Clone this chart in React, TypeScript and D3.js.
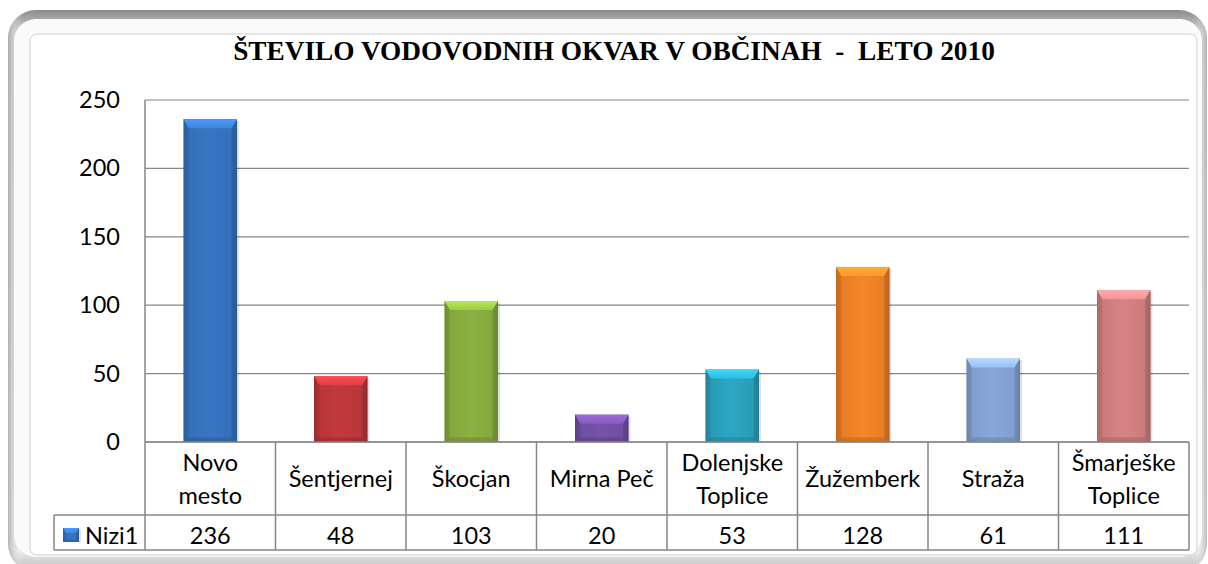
import React from "react";
import * as d3 from "d3";

const categories: string[][] = [
  ["Novo", "mesto"],
  ["Šentjernej"],
  ["Škocjan"],
  ["Mirna Peč"],
  ["Dolenjske", "Toplice"],
  ["Žužemberk"],
  ["Straža"],
  ["Šmarješke", "Toplice"],
];
const values: number[] = [236, 48, 103, 20, 53, 128, 61, 111];
const barColors: string[] = ["#3570B9", "#B8363A", "#84A83E", "#704EA0", "#2A9DB8", "#E97E26", "#819FCE", "#CC7C7C"];
const yTicks: number[] = [0, 50, 100, 150, 200, 250];
const seriesName = "Nizi1";
const title = "ŠTEVILO VODOVODNIH OKVAR V OBČINAH  -  LETO 2010";

const W = 1208;
const H = 564;
const X0 = 145;
const X1 = 1189;
const Y0 = 442;
const Y1 = 100;
const ROW1 = 515;
const ROW2 = 550;
const LEG_X = 54;
const labelFont = "Lato, 'Open Sans', sans-serif";
const FS = 23.5;

function Bar({ x, y, w, h, color, id, bevel = 9 }: { x: number; y: number; w: number; h: number; color: string; id: string; bevel?: number }) {
  const c = d3.color(color)!;
  const light = c.brighter(0.5).formatHex();
  const lighter = c.brighter(0.9).formatHex();
  const dark = c.darker(0.5).formatHex();
  const darker = c.darker(0.8).formatHex();
  const bt = Math.min(bevel, h / 2);
  const bs = Math.min(bevel * 0.6, w / 4);
  return (
    <g>
      <defs>
        <linearGradient id={`g-${id}`} x1="0" x2="1" y1="0" y2="0">
          <stop offset="0" stopColor={dark} />
          <stop offset="0.12" stopColor={color} />
          <stop offset="0.5" stopColor={c.brighter(0.15).formatHex()} />
          <stop offset="0.88" stopColor={color} />
          <stop offset="1" stopColor={dark} />
        </linearGradient>
        <linearGradient id={`t-${id}`} x1="0" x2="0" y1="0" y2="1">
          <stop offset="0" stopColor={lighter} />
          <stop offset="1" stopColor={light} />
        </linearGradient>
      </defs>
      <rect x={x + 2} y={y + 2} width={w} height={h - 2} fill="#000" opacity={0.12} />
      <rect x={x} y={y} width={w} height={h} fill={`url(#g-${id})`} />
      <path d={`M${x},${y}H${x + w}L${x + w - bs},${y + bt}H${x + bs}Z`} fill={`url(#t-${id})`} />
      <path d={`M${x},${y}L${x + bs},${y + bt}V${y + h - bt / 2}L${x},${y + h}Z`} fill={dark} opacity={0.35} />
      <path d={`M${x + w},${y}L${x + w - bs},${y + bt}V${y + h - bt / 2}L${x + w},${y + h}Z`} fill={darker} opacity={0.4} />
      <path d={`M${x},${y + h}L${x + bs},${y + h - bt / 2}H${x + w - bs}L${x + w},${y + h}Z`} fill={darker} opacity={0.45} />
    </g>
  );
}

export default function App() {
  const x = d3
    .scaleBand<number>()
    .domain(d3.range(categories.length))
    .range([X0, X1])
    .paddingInner(0.59)
    .paddingOuter(0.295);
  const y = d3.scaleLinear().domain([0, 250]).range([Y0, Y1]);
  const step = x.step();
  const colEdges = d3.range(categories.length + 1).map((i) => X0 + i * step);

  return (
    <svg width={W} height={H} style={{ position: "absolute", left: 0, top: 0 }}>
      <defs>
        <linearGradient id="frame" x1="0" x2="0" y1="0" y2="1">
          <stop offset="0" stopColor="#8a8a8a" />
          <stop offset="0.04" stopColor="#d6d6d6" />
          <stop offset="0.96" stopColor="#eeeeee" />
          <stop offset="1" stopColor="#b8b8b8" />
        </linearGradient>
        <linearGradient id="frameH" x1="0" x2="1" y1="0" y2="0">
          <stop offset="0" stopColor="#9a9a9a" stopOpacity={0.7} />
          <stop offset="0.012" stopColor="#ffffff" stopOpacity={0} />
          <stop offset="0.99" stopColor="#ffffff" stopOpacity={0} />
          <stop offset="1" stopColor="#9a9a9a" stopOpacity={0.6} />
        </linearGradient>
      </defs>
      <rect x={0} y={0} width={W} height={H} fill="#fff" />
      <rect x={8} y={10} width={1199} height={562} rx={28} fill="url(#frame)" />
      <rect x={8} y={10} width={1199} height={562} rx={28} fill="url(#frameH)" />
      <rect x={14} y={19} width={1188} height={538} rx={22} fill="#fafafa" />
      <rect x={30} y={34} width={1167} height={521} rx={7} fill="#fff" stroke="#cfcfcf" strokeWidth={1} />

      <text
        x={614}
        y={60}
        textAnchor="middle"
        fontFamily="'Liberation Serif', 'DejaVu Serif', serif"
        fontWeight="bold"
        fontSize={27.3}
        fill="#000"
        style={{ whiteSpace: "pre" }}
      >
        {title}
      </text>

      {yTicks.map((t) => (
        <g key={t}>
          <line x1={X0} x2={X1} y1={y(t)} y2={y(t)} stroke="#868686" strokeWidth={1.2} />
          <text x={120} y={y(t) + 8} textAnchor="end" fontFamily={labelFont} fontSize={FS} fill="#000">
            {t}
          </text>
        </g>
      ))}

      {values.map((v, i) => (
        <Bar key={i} id={`b${i}`} x={x(i)!} y={y(v)} w={x.bandwidth()} h={Y0 - y(v)} color={barColors[i]} />
      ))}

      {/* axis and table grid */}
      <line x1={X0} x2={X0} y1={Y1} y2={ROW2} stroke="#868686" strokeWidth={1.5} />
      <line x1={X0} x2={X1} y1={Y0} y2={Y0} stroke="#868686" strokeWidth={1.5} />
      <line x1={LEG_X} x2={X1} y1={ROW1} y2={ROW1} stroke="#868686" strokeWidth={1.5} />
      <line x1={LEG_X} x2={X1} y1={ROW2} y2={ROW2} stroke="#868686" strokeWidth={1.5} />
      <line x1={LEG_X} x2={LEG_X} y1={ROW1} y2={ROW2} stroke="#868686" strokeWidth={1.5} />
      {colEdges.slice(1).map((cx, i) => (
        <line key={i} x1={cx} x2={cx} y1={Y0} y2={ROW2} stroke="#868686" strokeWidth={1.5} />
      ))}

      {categories.map((lines, i) => {
        const cx = X0 + (i + 0.5) * step;
        return (
          <text key={i} textAnchor="middle" fontFamily={labelFont} fontSize={FS} fill="#000">
            {lines.map((ln, j) => (
              <tspan key={j} x={cx} y={487 + (j - (lines.length - 1) / 2) * 33}>
                {ln}
              </tspan>
            ))}
          </text>
        );
      })}

      {values.map((v, i) => (
        <text key={i} x={X0 + (i + 0.5) * step} y={544} textAnchor="middle" fontFamily={labelFont} fontSize={FS} fill="#000">
          {v}
        </text>
      ))}

      <Bar id="leg" x={63} y={528} w={16} h={14} color={barColors[0]} bevel={5} />
      <text x={85} y={544} fontFamily={labelFont} fontSize={FS} fill="#000">
        {seriesName}
      </text>
    </svg>
  );
}
